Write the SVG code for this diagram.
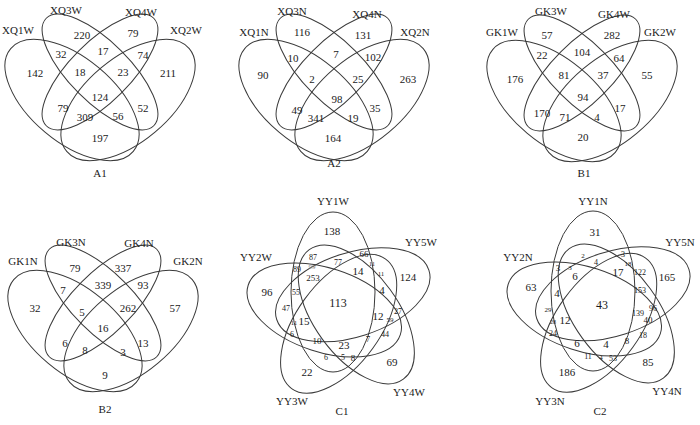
<svg xmlns="http://www.w3.org/2000/svg" xmlns:xlink="http://www.w3.org/1999/xlink" width="700" height="425" viewBox="0 0 700 425">
<style>
.e{fill:none;stroke:#3a3a3a;stroke-width:1}
text{font-family:"Liberation Serif","Times New Roman",serif;text-anchor:middle;fill:#1a1a1a;font-size:11px}
.m{font-size:9px}.s{font-size:8px}.xs{font-size:7px}.xxs{font-size:6px}.l{font-size:12px}.g{fill:#888}
</style>
<rect width="700" height="425" fill="#fff"/>
<defs>
<ellipse id="o1" cx="72" cy="100" rx="80" ry="42" transform="rotate(40 72 100)"/>
<ellipse id="o2" cx="128" cy="100" rx="80" ry="42" transform="rotate(-40 128 100)"/>
<ellipse id="i3" cx="100" cy="72" rx="76" ry="30" transform="rotate(45 100 72)"/>
<ellipse id="i4" cx="100" cy="72" rx="76" ry="30" transform="rotate(-45 100 72)"/>
<ellipse id="p" cx="333" cy="292" rx="42" ry="80"/>
</defs>
<g id="A1">
<g id="XQ1W"><use href="#o1" class="e"/><text x="18" y="34">XQ1W</text></g>
<g id="XQ2W"><use href="#o2" class="e"/><text x="186" y="34">XQ2W</text></g>
<g id="XQ3W"><use href="#i3" class="e"/><text x="66" y="14">XQ3W</text></g>
<g id="XQ4W"><use href="#i4" class="e"/><text x="141" y="16">XQ4W</text></g>
<g id="A1-nums"><text x="35" y="77">142</text><text x="82" y="39">220</text><text x="133" y="37">79</text><text x="168" y="77">211</text><text x="61" y="58">32</text><text x="103" y="55">17</text><text x="143" y="59">74</text><text x="80" y="76">18</text><text x="123" y="76">23</text><text x="100" y="101">124</text><text x="63" y="112">79</text><text x="143" y="112">52</text><text x="85" y="121">309</text><text x="118" y="120">56</text><text x="100" y="142">197</text></g>
<text x="100" y="177">A1</text>
</g>
<g id="A2">
<g id="XQ1N"><use href="#o1" class="e" transform="translate(234 0)"/><text x="254" y="36">XQ1N</text></g>
<g id="XQ2N"><use href="#o2" class="e" transform="translate(234 0)"/><text x="415" y="36">XQ2N</text></g>
<g id="XQ3N"><use href="#i3" class="e" transform="translate(234 0)"/><text x="292" y="15">XQ3N</text></g>
<g id="XQ4N"><use href="#i4" class="e" transform="translate(234 0)"/><text x="367" y="18">XQ4N</text></g>
<g id="A2-nums"><text x="263" y="79">90</text><text x="302" y="36">116</text><text x="363" y="39">131</text><text x="408" y="83">263</text><text x="293" y="62">10</text><text x="336" y="58">7</text><text x="373" y="61">102</text><text x="312" y="83">2</text><text x="358" y="83">25</text><text x="337" y="103">98</text><text x="297" y="114">49</text><text x="316" y="122">341</text><text x="353" y="122">19</text><text x="375" y="112">35</text><text x="333" y="142">164</text></g>
<text x="334" y="167">A2</text>
</g>
<g id="B1">
<g id="GK1W"><use href="#o1" class="e" transform="translate(482 1)"/><text x="502" y="36">GK1W</text></g>
<g id="GK2W"><use href="#o2" class="e" transform="translate(482 1)"/><text x="660" y="36">GK2W</text></g>
<g id="GK3W"><use href="#i3" class="e" transform="translate(482 1)"/><text x="551" y="15">GK3W</text></g>
<g id="GK4W"><use href="#i4" class="e" transform="translate(482 1)"/><text x="614" y="18">GK4W</text></g>
<g id="B1-nums"><text x="515" y="83">176</text><text x="547" y="39">57</text><text x="612" y="39">282</text><text x="647" y="79">55</text><text x="542" y="59">22</text><text x="582" y="56">104</text><text x="619" y="62">64</text><text x="564" y="79">81</text><text x="603" y="79">37</text><text x="583" y="101">94</text><text x="542" y="117">170</text><text x="565" y="121">71</text><text x="597" y="121">4</text><text x="620" y="112">17</text><text x="583" y="141">20</text></g>
<text x="584" y="177">B1</text>
</g>
<g id="B2">
<g id="GK1N"><use href="#o1" class="e" transform="translate(3 231)"/><text x="23" y="265">GK1N</text></g>
<g id="GK2N"><use href="#o2" class="e" transform="translate(3 231)"/><text x="188" y="265">GK2N</text></g>
<g id="GK3N"><use href="#i3" class="e" transform="translate(3 231)"/><text x="71" y="246">GK3N</text></g>
<g id="GK4N"><use href="#i4" class="e" transform="translate(3 231)"/><text x="139" y="247">GK4N</text></g>
<g id="B2-nums"><text x="35" y="312">32</text><text x="75" y="272">79</text><text x="123" y="272">337</text><text x="175" y="312">57</text><text x="63" y="294">7</text><text x="103" y="289">339</text><text x="143" y="289">93</text><text x="82" y="316">5</text><text x="128" y="312">262</text><text x="103" y="332">16</text><text x="65" y="347">6</text><text x="85" y="354">8</text><text x="123" y="356">3</text><text x="143" y="347">13</text><text x="105" y="379">9</text></g>
<text x="105" y="413">B2</text>
</g>
<g id="C1">
<g id="YY1W"><use href="#p" class="e"/><text x="333" y="205">YY1W</text></g>
<g id="YY5W"><use href="#p" class="e" transform="rotate(72 341 307)"/><text x="421" y="246">YY5W</text></g>
<g id="YY4W"><use href="#p" class="e" transform="rotate(144 341 307)"/><text x="409" y="396">YY4W</text></g>
<g id="YY3W"><use href="#p" class="e" transform="rotate(216 341 307)"/><text x="292" y="405">YY3W</text></g>
<g id="YY2W"><use href="#p" class="e" transform="rotate(288 341 307)"/><text x="256" y="261">YY2W</text></g>
<g id="C1-nums">
<text x="332" y="235">138</text><text x="408" y="281">124</text><text x="392" y="366">69</text><text x="307" y="376">22</text><text x="267" y="296">96</text>
<text class="s" x="313" y="260">87</text><text class="m" x="364" y="257">66</text><text class="s" x="297" y="272">89</text><text class="xs g" x="312" y="268.5">99</text><text class="s" x="338" y="265">77</text><text class="xxs" x="372" y="266">11</text><text x="358" y="275">14</text><text class="xs" x="381" y="275.5">11</text><text class="m" x="313" y="281">253</text><text class="s" x="296" y="295">55</text><text class="l" x="338" y="307">113</text><text x="382" y="294">4</text><text class="s" x="286" y="311">47</text><text x="304" y="325">15</text><text class="xs" x="294" y="324.5">11</text><text x="378" y="320">12</text><text class="s" x="398" y="314">27</text><text class="xs" x="390" y="321.5">59</text><text class="s" x="292" y="337">6</text><text class="m" x="317" y="344">10</text><text x="344" y="349">23</text><text class="m" x="368" y="342">7</text><text class="s" x="385" y="337">44</text><text class="s" x="326" y="360">6</text><text class="s" x="343" y="360">5</text><text class="m" x="353" y="361">8</text>
</g>
<text x="342" y="415">C1</text>
</g>
<g id="C2">
<g id="YY1N"><use href="#p" class="e" transform="translate(260 -1)"/><text x="593" y="205">YY1N</text></g>
<g id="YY5N"><use href="#p" class="e" transform="translate(260 -1) rotate(72 341 307)"/><text x="680" y="246">YY5N</text></g>
<g id="YY4N"><use href="#p" class="e" transform="translate(260 -1) rotate(144 341 307)"/><text x="667" y="395">YY4N</text></g>
<g id="YY3N"><use href="#p" class="e" transform="translate(260 -1) rotate(216 341 307)"/><text x="550" y="405">YY3N</text></g>
<g id="YY2N"><use href="#p" class="e" transform="translate(260 -1) rotate(288 341 307)"/><text x="518" y="261">YY2N</text></g>
<g id="C2-nums">
<text x="595" y="236">31</text><text x="667" y="281">165</text><text x="648" y="366">85</text><text x="567" y="376">186</text><text x="531" y="291">63</text>
<text class="m" x="558" y="271">3</text><text class="xs" x="570" y="269.5">3</text><text class="xs" x="583" y="257.5">2</text><text class="s" x="596" y="265">4</text><text x="575" y="280">6</text><text x="557" y="297">4</text><text class="l" x="602" y="309">43</text><text class="xs" x="548" y="311.5">29</text><text x="565" y="324">12</text><text class="xxs" x="553" y="324">28</text><text class="s" x="553" y="336">24</text><text x="577" y="347">6</text><text x="606" y="348">4</text><text class="s" x="588" y="359">11</text><text class="xs" x="601" y="359.5">4</text><text class="s" x="613" y="361">53</text><text class="s" x="623" y="257">3</text><text class="xs" x="628" y="265.5">18</text><text x="618" y="276">17</text><text class="s" x="640" y="275">122</text><text class="s" x="640" y="293">153</text><text class="s" x="638" y="316">139</text><text class="s" x="653" y="311">96</text><text class="m" x="648" y="323">40</text><text class="s" x="643" y="338">18</text><text class="m" x="627" y="344">8</text>
</g>
<text x="600" y="415">C2</text>
</g>
</svg>
